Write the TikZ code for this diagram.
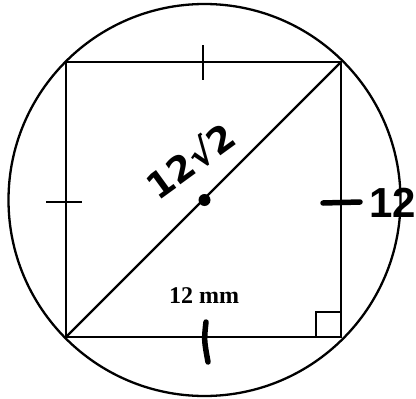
\documentclass[tikz,border=0pt]{standalone}
\usepackage{fontspec}
\setmainfont{Liberation Serif}
\newfontfamily\hand{DejaVu Sans}
\newfontfamily\handnarrow{Liberation Sans}
\begin{document}
\begin{tikzpicture}[x=1pt,y=-1pt,line width=2.3pt,
  thin tick/.style={line width=2.3pt},
  hand tick/.style={line width=5.5pt,line cap=round},
  handtext/.style={inner sep=0pt,font=\hand\bfseries}]
\useasboundingbox (0,0) rectangle (416,399);
\coordinate (O) at (204.5,200);
\coordinate (A) at (66,62);
\coordinate (B) at (341,62);
\coordinate (C) at (341,337);
\coordinate (D) at (66,337);
\draw (O) circle [radius=196];
\draw (A) -- (B) -- (C) -- (D) -- cycle;
\draw (D) -- (B);
\node[circle,fill,inner sep=0pt,minimum size=12pt] (dot) at (O) {};
% right angle mark
\coordinate (R1) at (316,337);
\coordinate (R2) at (316,312);
\coordinate (R3) at (341,312);
\draw[line width=2pt] (R1) -- (R2) -- (R3);
% tick marks
\coordinate (t1) at (203,45);
\coordinate (t2) at (203,80);
\draw[thin tick] (t1) -- (t2);
\coordinate (l1) at (46,202);
\coordinate (l2) at (82,202);
\draw[thin tick] (l1) -- (l2);
\coordinate (b1) at (206,322);
\coordinate (b2) at (208,362);
\draw[hand tick] (b1) .. controls (204,340) .. (b2);
\coordinate (r1) at (323,203);
\coordinate (r2) at (360,202);
\draw[hand tick] (r1) -- (r2);
% labels
\node (mm) at (204,296) {\fontsize{24}{24}\selectfont\bfseries 12 mm};
\node[handtext,rotate=36] (diag) at (190,160) {\fontsize{36}{36}\selectfont 12√2};
\node[inner sep=0pt,anchor=west,font=\handnarrow\bfseries] (side) at (368,203) {\fontsize{42}{42}\selectfont 12};
\end{tikzpicture}
\end{document}
